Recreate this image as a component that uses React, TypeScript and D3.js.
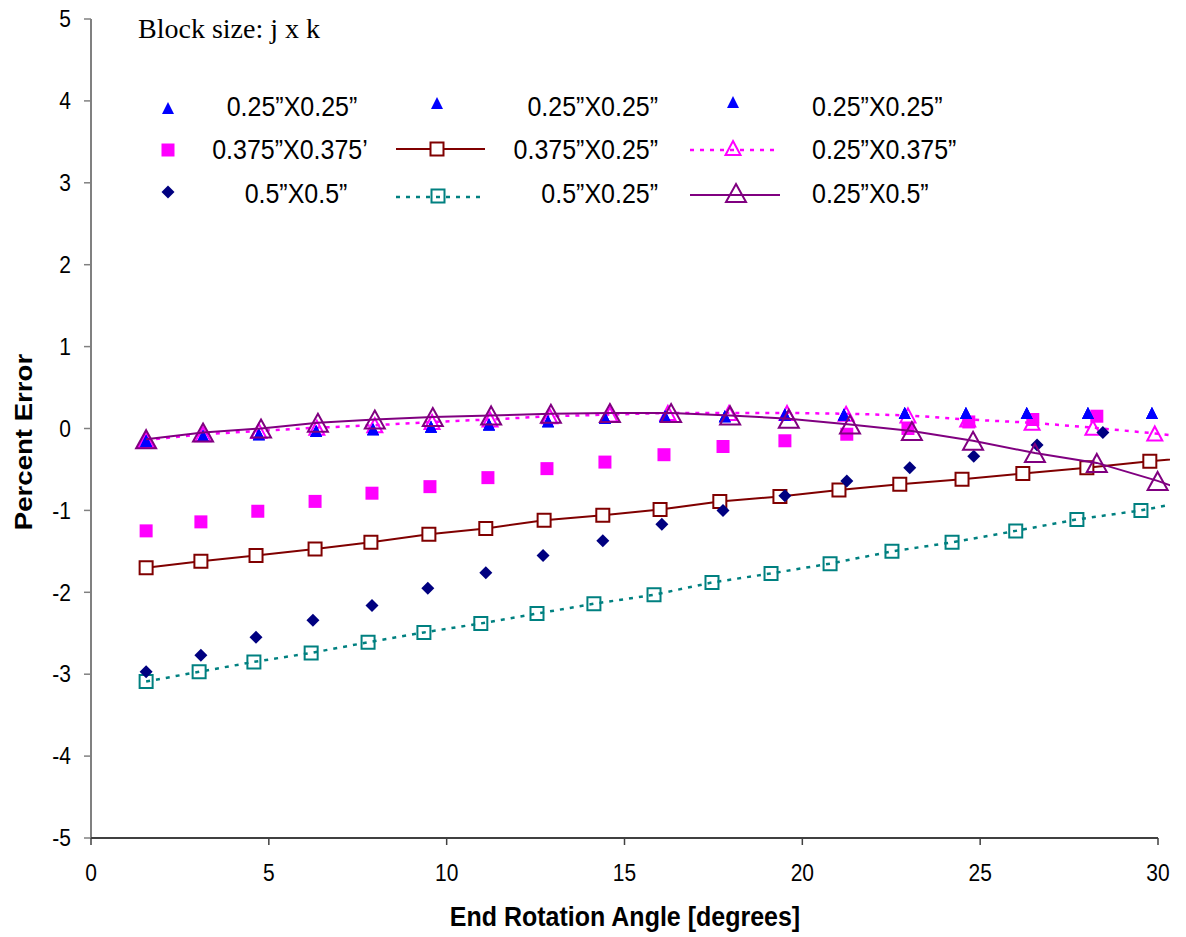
import React from "react";
import * as d3 from "d3";

// ---------- DATA ----------
const blueX = [1.55, 3.15, 4.72, 6.33, 7.93, 9.56, 11.19, 12.85, 14.45, 16.14, 17.82, 19.51, 21.17, 22.88, 24.6, 26.31, 28.03, 29.83];
const blueY = [-0.15, -0.09, -0.07, -0.03, -0.01, 0.02, 0.05, 0.09, 0.13, 0.15, 0.15, 0.17, 0.17, 0.19, 0.19, 0.19, 0.19, 0.19];

const pinkX = [1.55, 3.09, 4.69, 6.3, 7.9, 9.53, 11.16, 12.82, 14.45, 16.11, 17.77, 19.51, 21.25, 22.97, 24.68, 26.48, 28.28];
const pinkY = [-1.25, -1.14, -1.01, -0.89, -0.79, -0.71, -0.6, -0.49, -0.41, -0.32, -0.22, -0.15, -0.07, 0.0, 0.08, 0.11, 0.15];

const navyX = [1.55, 3.09, 4.64, 6.24, 7.9, 9.47, 11.1, 12.71, 14.39, 16.05, 17.77, 19.51, 21.25, 23.02, 24.82, 26.6, 28.45];
const navyY = [-2.97, -2.77, -2.55, -2.34, -2.16, -1.95, -1.76, -1.55, -1.37, -1.17, -1.0, -0.82, -0.64, -0.48, -0.34, -0.2, -0.05];

const redX = [1.55, 3.09, 4.64, 6.3, 7.87, 9.5, 11.1, 12.74, 14.39, 16.0, 17.68, 19.37, 21.03, 22.74, 24.49, 26.2, 28.0, 29.77, 31.5];
const redY = [-1.7, -1.62, -1.55, -1.47, -1.39, -1.29, -1.22, -1.12, -1.06, -0.99, -0.89, -0.83, -0.75, -0.68, -0.62, -0.55, -0.48, -0.4, -0.33];

const tealX = [1.55, 3.04, 4.58, 6.19, 7.79, 9.36, 10.96, 12.54, 14.14, 15.83, 17.46, 19.12, 20.78, 22.52, 24.21, 26.0, 27.72, 29.52, 31.2];
const tealY = [-3.09, -2.97, -2.85, -2.74, -2.61, -2.49, -2.38, -2.26, -2.14, -2.03, -1.88, -1.77, -1.65, -1.5, -1.39, -1.25, -1.11, -1.0, -0.86];

const magX = [1.55, 3.15, 4.72, 6.35, 7.98, 9.59, 11.22, 12.9, 14.59, 16.22, 17.94, 19.57, 21.23, 22.97, 24.65, 26.46, 28.17, 29.91, 31.6];
const magY = [-0.14, -0.07, -0.03, 0.01, 0.04, 0.08, 0.11, 0.15, 0.17, 0.19, 0.19, 0.19, 0.18, 0.16, 0.11, 0.07, 0.01, -0.06, -0.14];

const purX = [1.55, 3.15, 4.78, 6.38, 7.98, 9.61, 11.25, 12.93, 14.59, 16.31, 17.97, 19.62, 21.34, 23.08, 24.8, 26.54, 28.28, 29.99, 31.7];
const purY = [-0.13, -0.05, 0.0, 0.07, 0.11, 0.14, 0.16, 0.18, 0.19, 0.19, 0.16, 0.12, 0.05, -0.03, -0.15, -0.3, -0.42, -0.64, -0.9];

const xTicks = [0, 5, 10, 15, 20, 25, 30];
const yTicks = [-5, -4, -3, -2, -1, 0, 1, 2, 3, 4, 5];

const legendLabels = [
  "0.25\u201dX0.25\u201d", "0.25\u201dX0.25\u201d", "0.25\u201dX0.25\u201d",
  "0.375\u201dX0.375\u2019", "0.375\u201dX0.25\u201d", "0.25\u201dX0.375\u201d",
  "0.5\u201dX0.5\u201d", "0.5\u201dX0.25\u201d", "0.25\u201dX0.5\u201d",
];

// ---------- LAYOUT ----------
const W = 1186, H = 937;
const X0 = 91, X1 = 1158, YT = 19, YB = 838;
const x = d3.scaleLinear().domain([0, 30]).range([X0, X1]);
const y = d3.scaleLinear().domain([-5, 5]).range([YB, YT]);

const tri = (cx: number, cy: number, w: number, h: number) =>
  `M${cx},${cy - h / 2}L${cx + w / 2},${cy + h / 2}L${cx - w / 2},${cy + h / 2}Z`;
const sq = (cx: number, cy: number, s: number) =>
  `M${cx - s / 2},${cy - s / 2}h${s}v${s}h${-s}Z`;
const dia = (cx: number, cy: number, s: number) =>
  `M${cx},${cy - s / 2}L${cx + s / 2},${cy}L${cx},${cy + s / 2}L${cx - s / 2},${cy}Z`;

const zip = (xs: number[], ys: number[]) => xs.map((v, i) => [v, ys[i]] as [number, number]);
const lineGen = d3.line<[number, number]>().x((d) => x(d[0])).y((d) => y(d[1]));

const BLUE = "#0000FF", PINK = "#FF00FF", NAVY = "#000080", RED = "#800000", TEAL = "#008080", MAG = "#FF00FF", PUR = "#800080";

type MarkerKind = "btri" | "psq" | "ndia" | "rsq" | "tsq" | "mtri" | "ptri";
function marker(kind: MarkerKind, cx: number, cy: number, key?: any) {
  switch (kind) {
    case "btri": return <path key={key} d={tri(cx, cy, 12, 12)} fill={BLUE} />;
    case "psq": return <path key={key} d={sq(cx, cy, 13)} fill={PINK} />;
    case "ndia": return <path key={key} d={dia(cx, cy, 13)} fill={NAVY} />;
    case "rsq": return <path key={key} d={sq(cx, cy, 13)} fill="white" stroke={RED} strokeWidth={2} />;
    case "tsq": return <path key={key} d={sq(cx, cy, 13)} fill="none" stroke={TEAL} strokeWidth={2} />;
    case "mtri": return <path key={key} d={tri(cx, cy, 15, 14)} fill="none" stroke={MAG} strokeWidth={2} />;
    case "ptri": return <path key={key} d={tri(cx, cy, 20, 18)} fill="none" stroke={PUR} strokeWidth={2} />;
  }
}

const markers = (xs: number[], ys: number[], kind: MarkerKind) =>
  xs.map((v, i) => (v <= 30.3 ? marker(kind, x(v), y(ys[i]), kind + i) : null));

const arial = "Arial, 'Liberation Sans', sans-serif";

function T(props: { x: number; y: number; anchor?: string; size: number; bold?: boolean; sy?: number; children: any }) {
  const sy = props.sy ?? 1.12;
  return (
    <text
      transform={`translate(${props.x},${props.y}) scale(1,${sy})`}
      dy="0.35em"
      textAnchor={props.anchor || "start"}
      fontFamily={arial}
      fontSize={props.size}
      fontWeight={props.bold ? "bold" : "normal"}
    >
      {props.children}
    </text>
  );
}

export default function App() {
  const legRows = [107, 150, 194];
  return (
    <svg width={W} height={H} style={{ position: "absolute", left: 0, top: 0, background: "white" }}>
      <rect x={0} y={0} width={W} height={H} fill="white" />
      <defs>
        <clipPath id="plotclip"><rect x={X0} y={0} width={1170 - X0} height={H} /></clipPath>
      </defs>

      {/* axes */}
      <line x1={X0} y1={YT} x2={X0} y2={YB} stroke="#808080" strokeWidth={2} />
      <line x1={X0} y1={YB} x2={X1} y2={YB} stroke="#404040" strokeWidth={2} />
      {yTicks.map((t) => (
        <g key={"yt" + t}>
          <line x1={X0 - 7} x2={X0} y1={y(t)} y2={y(t)} stroke="#808080" strokeWidth={1.5} />
          <T x={71} y={y(t)} anchor="end" size={21}>{t}</T>
        </g>
      ))}
      {xTicks.map((t) => (
        <g key={"xt" + t}>
          <line x1={x(t)} x2={x(t)} y1={YB} y2={YB + 7} stroke="#404040" strokeWidth={1.5} />
          <T x={x(t)} y={873} anchor="middle" size={21}>{t}</T>
        </g>
      ))}
      <T x={625} y={916} anchor="middle" size={25} bold sy={1.12}>End Rotation Angle [degrees]</T>
      <text transform={`translate(24,442) rotate(-90) scale(1.15,1)`} dy="0.35em" textAnchor="middle" fontFamily={arial} fontWeight="bold" fontSize={24}>Percent Error</text>

      <text x={138} y={38} fontFamily="'Times New Roman', 'Liberation Serif', serif" fontSize={28}>Block size: j x k</text>

      {/* series */}
      <g clipPath="url(#plotclip)">
        <path d={lineGen(zip(tealX, tealY)) || ""} fill="none" stroke={TEAL} strokeWidth={2.5} strokeDasharray="4,6" />
        {markers(tealX, tealY, "tsq")}
        <path d={lineGen(zip(redX, redY)) || ""} fill="none" stroke={RED} strokeWidth={2} />
        {markers(redX, redY, "rsq")}
        <path d={lineGen(zip(magX, magY)) || ""} fill="none" stroke={MAG} strokeWidth={2.5} strokeDasharray="4,6" />
        {markers(magX, magY, "mtri")}
        {markers(pinkX, pinkY, "psq")}
        {markers(navyX, navyY, "ndia")}
        {markers(blueX, blueY, "btri")}
        {markers(blueX, blueY, "btri")}
        {markers(blueX, blueY, "btri")}
        <path d={lineGen(zip(purX, purY)) || ""} fill="none" stroke={PUR} strokeWidth={2} />
        {markers(purX, purY, "ptri")}
      </g>

      {/* legend */}
      <g>
        {marker("btri", 168, 108)}
        <T x={292} y={legRows[0]} anchor="middle" size={25} sy={1.08}>{legendLabels[0]}</T>
        {marker("btri", 437, 103)}
        <T x={658} y={legRows[0]} anchor="end" size={25} sy={1.08}>{legendLabels[1]}</T>
        {marker("btri", 733, 102)}
        <T x={812} y={legRows[0]} size={25} sy={1.08}>{legendLabels[2]}</T>

        {marker("psq", 168, 150)}
        <T x={290} y={legRows[1]} anchor="middle" size={25} sy={1.08}>{legendLabels[3]}</T>
        <line x1={396} x2={485} y1={149} y2={149} stroke={RED} strokeWidth={2} />
        {marker("rsq", 437, 149)}
        <T x={658} y={legRows[1]} anchor="end" size={25} sy={1.08}>{legendLabels[4]}</T>
        <line x1={690} x2={777} y1={150} y2={150} stroke={MAG} strokeWidth={2.5} strokeDasharray="4,6" />
        {marker("mtri", 733, 148)}
        <T x={812} y={legRows[1]} size={25} sy={1.08}>{legendLabels[5]}</T>

        {marker("ndia", 168, 192)}
        <T x={296} y={legRows[2]} anchor="middle" size={25} sy={1.08}>{legendLabels[6]}</T>
        <line x1={396} x2={483} y1={197} y2={197} stroke={TEAL} strokeWidth={2.5} strokeDasharray="4,6" />
        {marker("tsq", 438, 196)}
        <T x={658} y={legRows[2]} anchor="end" size={25} sy={1.08}>{legendLabels[7]}</T>
        <line x1={690} x2={780} y1={195} y2={195} stroke={PUR} strokeWidth={2} />
        {marker("ptri", 736, 193)}
        <T x={812} y={legRows[2]} size={25} sy={1.08}>{legendLabels[8]}</T>
      </g>
    </svg>
  );
}
